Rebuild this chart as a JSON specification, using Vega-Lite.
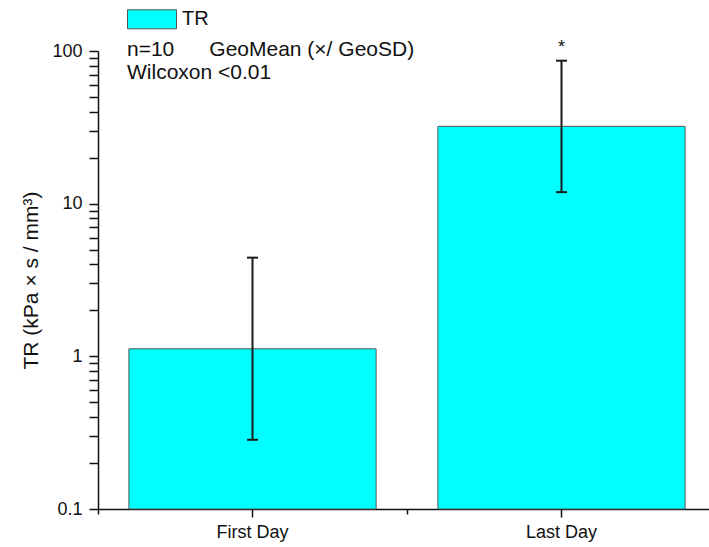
{
  "$schema": "https://vega.github.io/schema/vega-lite/v6.json",
  "width": 611,
  "height": 458,
  "autosize": {"type": "none"},
  "padding": {"left": 98, "top": 51, "right": 0, "bottom": 38},
  "background": "white",
  "config": {
    "font": "Liberation Sans",
    "view": {"stroke": null},
    "axis": {
      "domainColor": "#111111",
      "domainWidth": 1.5,
      "tickColor": "#111111",
      "tickWidth": 1.5,
      "labelFont": "Liberation Sans",
      "labelFontSize": 18,
      "labelColor": "#111111",
      "titleFont": "Liberation Sans",
      "titleFontWeight": "normal",
      "titleColor": "#111111",
      "grid": false
    }
  },
  "data": {
    "values": [
      {"day": "First Day", "series": "TR", "geomean": 1.12, "lower": 0.284, "upper": 4.43, "sig": ""},
      {"day": "Last Day", "series": "TR", "geomean": 32.1, "lower": 11.9, "upper": 86.4, "sig": "*"}
    ]
  },
  "resolve": {"axis": {"x": "independent"}},
  "layer": [
    {
      "mark": {"type": "bar", "width": {"band": 0.8}, "stroke": "#555555", "strokeWidth": 1, "opacity": 1},
      "encoding": {
        "x": {
          "field": "day", "type": "nominal", "sort": null,
          "scale": {"type": "band", "range": [0, 618], "paddingInner": 0, "paddingOuter": 0},
          "axis": {"title": null, "labelAngle": 0, "tickSize": 8, "labelPadding": 6, "orient": "bottom"}
        },
        "y": {
          "field": "geomean", "type": "quantitative",
          "scale": {"type": "log", "domain": [0.1, 100], "nice": false},
          "axis": {
            "title": "TR (kPa × s / mm³)",
            "titleFontSize": 21,
            "titlePadding": 10,
            "values": [0.1, 0.2, 0.3, 0.4, 0.5, 0.6, 0.7, 0.8, 0.9, 1, 2, 3, 4, 5, 6, 7, 8, 9, 10, 20, 30, 40, 50, 60, 70, 80, 90, 100],
            "format": "~g",
            "labelExpr": "(datum.value == 0.1 || datum.value == 1 || datum.value == 10 || datum.value == 100) ? datum.label : ''",
            "tickSize": 9,
            "labelPadding": 7,
            "labelOverlap": false,
            "encode": {
              "ticks": {
                "update": {
                  "x2": {"signal": "(datum.value == 0.1 || datum.value == 1 || datum.value == 10 || datum.value == 100) ? -9 : -5"}
                }
              }
            }
          }
        },
        "y2": {"datum": 0.1},
        "color": {
          "field": "series", "type": "nominal",
          "scale": {"range": ["#00FFFF"]},
          "legend": {
            "orient": "none",
            "legendX": 29,
            "legendY": -56.7,
            "padding": 0,
            "title": ["n=10\u00a0\u00a0\u00a0\u00a0\u00a0\u00a0GeoMean (×/ GeoSD)", "Wilcoxon <0.01"],
            "titleOrient": "bottom",
            "titleAnchor": "start",
            "titleBaseline": "top",
            "titleFontSize": 21,
            "titleFontWeight": "normal",
            "titleColor": "#111111",
            "titleLineHeight": 23,
            "titlePadding": 8,
            "titleLimit": 500,
            "symbolType": "M-1,-0.388H1V0.388H-1Z",
            "symbolSize": 2401,
            "symbolStrokeColor": "#555555",
            "symbolStrokeWidth": 1,
            "symbolOpacity": 1,
            "labelFontSize": 20,
            "labelColor": "#111111",
            "labelOffset": 5
          }
        }
      }
    },
    {
      "mark": {"type": "rule", "strokeWidth": 2, "color": "#1a1a1a"},
      "encoding": {
        "x": {
          "field": "day", "type": "nominal", "sort": null,
          "axis": {"title": null, "labels": false, "domain": false, "tickBand": "extent", "tickSize": 5, "orient": "bottom"}
        },
        "y": {"field": "lower", "type": "quantitative"},
        "y2": {"field": "upper"}
      }
    },
    {
      "mark": {"type": "tick", "orient": "horizontal", "size": 11, "thickness": 2, "color": "#1a1a1a", "opacity": 1},
      "encoding": {
        "x": {"field": "day", "type": "nominal", "sort": null, "axis": null},
        "y": {"field": "lower", "type": "quantitative"}
      }
    },
    {
      "mark": {"type": "tick", "orient": "horizontal", "size": 11, "thickness": 2, "color": "#1a1a1a", "opacity": 1},
      "encoding": {
        "x": {"field": "day", "type": "nominal", "sort": null, "axis": null},
        "y": {"field": "upper", "type": "quantitative"}
      }
    },
    {
      "mark": {"type": "text", "dy": -8, "baseline": "alphabetic", "fontSize": 18, "color": "#111111"},
      "encoding": {
        "x": {"field": "day", "type": "nominal", "sort": null, "axis": null},
        "y": {"field": "upper", "type": "quantitative"},
        "text": {"field": "sig"}
      }
    }
  ]
}
